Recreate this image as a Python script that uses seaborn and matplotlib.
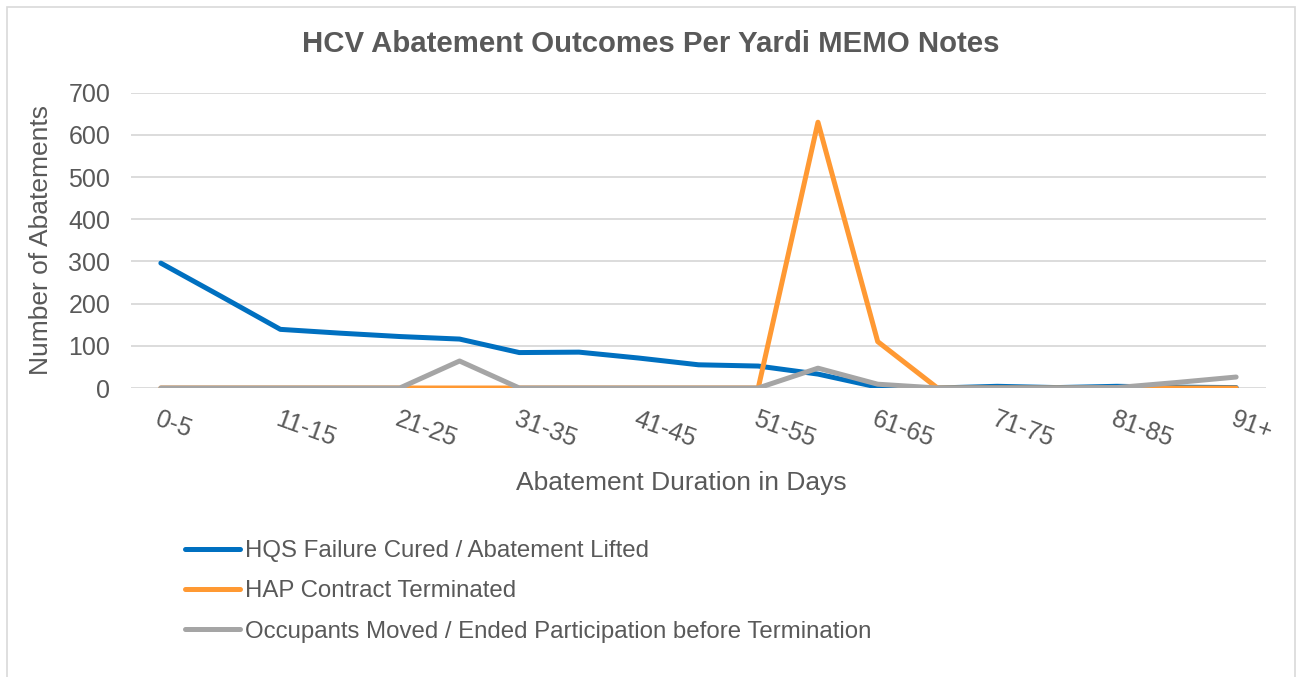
import numpy as np
import pandas as pd
import matplotlib
matplotlib.use("Agg")
import matplotlib.pyplot as plt
import seaborn as sns
from matplotlib.patches import Rectangle

categories = ['0-5', '6-10', '11-15', '16-20', '21-25', '26-30', '31-35', '36-40',
              '41-45', '46-50', '51-55', '56-60', '61-65', '66-70', '71-75', '76-80',
              '81-85', '86-90', '91+']
hqs_cured = [296, 218, 139, 130, 122, 116, 84, 85, 71, 55, 52, 33, 2, 0, 4, 1, 4, 2, 1]
hap_terminated = [0, 0, 0, 0, 0, 0, 0, 0, 0, 0, 0, 630, 110, 0, 0, 0, 0, 0, 0]
occupants_moved = [0, 0, 0, 0, 0, 64, 0, 0, 0, 0, 0, 47, 9, 0, 0, 0, 1, 13, 26]
series_names = ['HQS Failure Cured / Abatement Lifted',
                'HAP Contract Terminated',
                'Occupants Moved / Ended Participation before Termination']
colors = ['#0070C0', '#FF9933', '#A5A5A5']

rows = []
for name, vals in zip(series_names, [hqs_cured, hap_terminated, occupants_moved]):
    for i, v in enumerate(vals):
        rows.append({'pos': i, 'category': categories[i], 'value': v, 'series': name})
df = pd.DataFrame(rows)

sns.set_theme(style='white')
plt.rcParams['font.family'] = ['Liberation Sans', 'DejaVu Sans']
text_color = '#595959'
grid_color = '#D9D9D9'

W, H = 1297, 677
fig = plt.figure(figsize=(W / 100, H / 100), dpi=100)
ax = fig.add_axes([131 / W, 1 - 388 / H, (1266 - 131) / W, (388 - 92.7) / H])

sns.lineplot(data=df, x='pos', y='value', hue='series', hue_order=series_names,
             palette=colors, linewidth=3.6, sort=False, ax=ax)
for ln in ax.get_lines():
    ln.set_solid_capstyle('round')
    ln.set_solid_joinstyle('round')

ax.set_xlim(-0.5, len(categories) - 0.5)
ax.set_ylim(0, 700)
ax.set_yticks(np.arange(0, 701, 100))
ax.yaxis.grid(True, color=grid_color, linewidth=1.3)
ax.set_axisbelow(True)
for s in ax.spines.values():
    s.set_visible(False)

ax.set_xticks(range(len(categories)))
ax.set_xticklabels([c if i % 2 == 0 else '' for i, c in enumerate(categories)],
                   rotation=-20, ha='left', va='top', rotation_mode='anchor')
ax.tick_params(axis='both', length=0, labelsize=18, labelcolor=text_color)
ax.tick_params(axis='x', pad=14)
ax.tick_params(axis='y', pad=15)

ax.set_xlabel('Abatement Duration in Days', fontsize=19, color=text_color)
ax.xaxis.set_label_coords((681 - 131) / (1266 - 131), -(483 - 388) / (388 - 92.7))
ax.xaxis.label.set_va('center')
ax.set_ylabel('Number of Abatements', fontsize=19, color=text_color)
ax.yaxis.set_label_coords(-(131 - 41) / (1266 - 131), 0.5)
ax.yaxis.label.set_va('center')

fig.text(651 / W, 1 - 44 / H, 'HCV Abatement Outcomes Per Yardi MEMO Notes',
         ha='center', va='center', fontsize=21.2, fontweight='bold', color=text_color)

handles, labels = ax.get_legend_handles_labels()
if ax.legend_:
    ax.legend_.remove()
leg = fig.legend(handles, labels, loc='upper left', bbox_to_anchor=(185 / W, 1 - 540 / H),
                 bbox_transform=fig.transFigure, frameon=False, fontsize=17.3,
                 handlelength=2.3, handletextpad=0.2, labelspacing=0.76,
                 borderpad=0, borderaxespad=0, labelcolor=text_color)
for lh in leg.get_lines():
    lh.set_linewidth(3.6)
    lh.set_solid_capstyle('round')

fig.patches.append(Rectangle((7 / W, -0.05), (1295 - 7) / W, 1 - 7 / H + 0.05,
                             transform=fig.transFigure, fill=False,
                             edgecolor=grid_color, linewidth=1.2))

fig.savefig('out.png', dpi=100)
